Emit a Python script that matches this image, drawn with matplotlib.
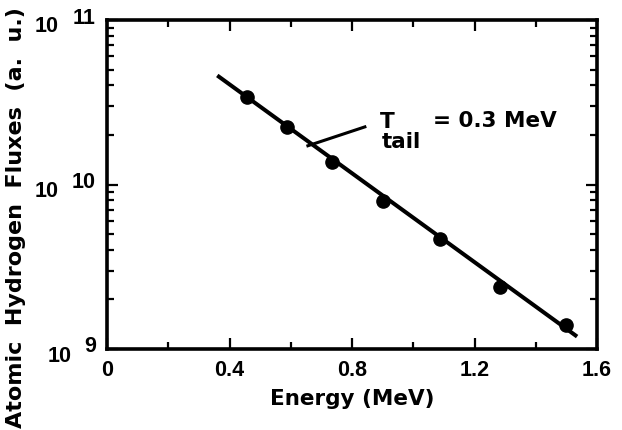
import numpy as np
import matplotlib.pyplot as plt
from matplotlib.ticker import FixedLocator, NullFormatter, LogLocator

# measured atomic hydrogen flux vs energy
energy = [0.457, 0.588, 0.735, 0.90, 1.087, 1.283, 1.50]
flux = [3.4e10, 2.25e10, 1.37e10, 7.9e9, 4.66e9, 2.38e9, 1.39e9]

# exponential tail fit, T_tail = 0.3 MeV
fit_energy = [0.36, 1.535]
fit_flux = [4.6e10, 1.19e9]

# leader from the fit line to the label
leader_energy = [0.656, 0.842]
leader_flux = [1.72e10, 2.24e10]

xticks = [0, 0.4, 0.8, 1.2, 1.6]
xtick_labels = ['0', '0.4', '0.8', '1.2', '1.6']
yticks = [1e9, 1e10, 1e11]
yexponents = ['9', '10', '11']

tick_font = dict(family='Liberation Sans', weight='bold', size=15.5)
label_font = dict(family='DejaVu Sans', weight='bold', size=15.5)

fig = plt.figure(figsize=(6.22, 4.3), dpi=100)
ax = fig.add_axes([107/622., 1 - 349/430., 490/622., 329/430.])

ax.plot(fit_energy, fit_flux, color='black', lw=2.9, solid_capstyle='butt')
ax.plot(energy, flux, 'o', color='black', ms=9.5)
ax.plot(leader_energy, leader_flux, color='black', lw=2.2)

ax.set_yscale('log')
ax.set_xlim(0, 1.6)
ax.set_ylim(1e9, 1e11)

for s in ax.spines.values():
    s.set_linewidth(2.6)

ax.xaxis.set_major_locator(FixedLocator(xticks))
ax.xaxis.set_minor_locator(FixedLocator([0.2, 0.6, 1.0, 1.4]))
ax.set_xticklabels(xtick_labels, **tick_font)
ax.yaxis.set_major_locator(FixedLocator(yticks))
ax.yaxis.set_minor_locator(LogLocator(base=10, subs=np.arange(2, 10)))
ax.yaxis.set_major_formatter(NullFormatter())
ax.yaxis.set_minor_formatter(NullFormatter())
ax.tick_params(which='both', direction='in', top=True, right=True, width=1.6)
ax.tick_params(which='major', length=8, pad=8)
ax.tick_params(which='minor', length=5)

# y tick labels as "10" with a raised exponent
for yv, ex in zip(yticks, yexponents):
    ax.annotate(ex, xy=(0, yv), xycoords=('axes fraction', 'data'),
                xytext=(-11, 2), textcoords='offset pixels',
                ha='right', va='center', **tick_font)
    ax.annotate('10', xy=(0, yv), xycoords=('axes fraction', 'data'),
                xytext=(-11 - 13 * len(ex) - 11, -7), textcoords='offset pixels',
                ha='right', va='center', **tick_font)

ax.set_xlabel('Energy (MeV)', labelpad=6, **label_font)
fig.text(0.025, 0.004, 'Atomic  Hydrogen  Fluxes  (a.  u.)', rotation=90,
         ha='center', va='bottom', family='DejaVu Sans', weight='bold', size=16)

ax.text(0.891, 2.2e10, 'T', ha='left', va='baseline', **label_font)
ax.text(0.898, 1.67e10, 'tail', ha='left', va='baseline', **label_font)
ax.text(1.064, 2.23e10, '= 0.3 MeV', ha='left', va='baseline', **label_font)

fig.savefig('out.png', dpi=100)
